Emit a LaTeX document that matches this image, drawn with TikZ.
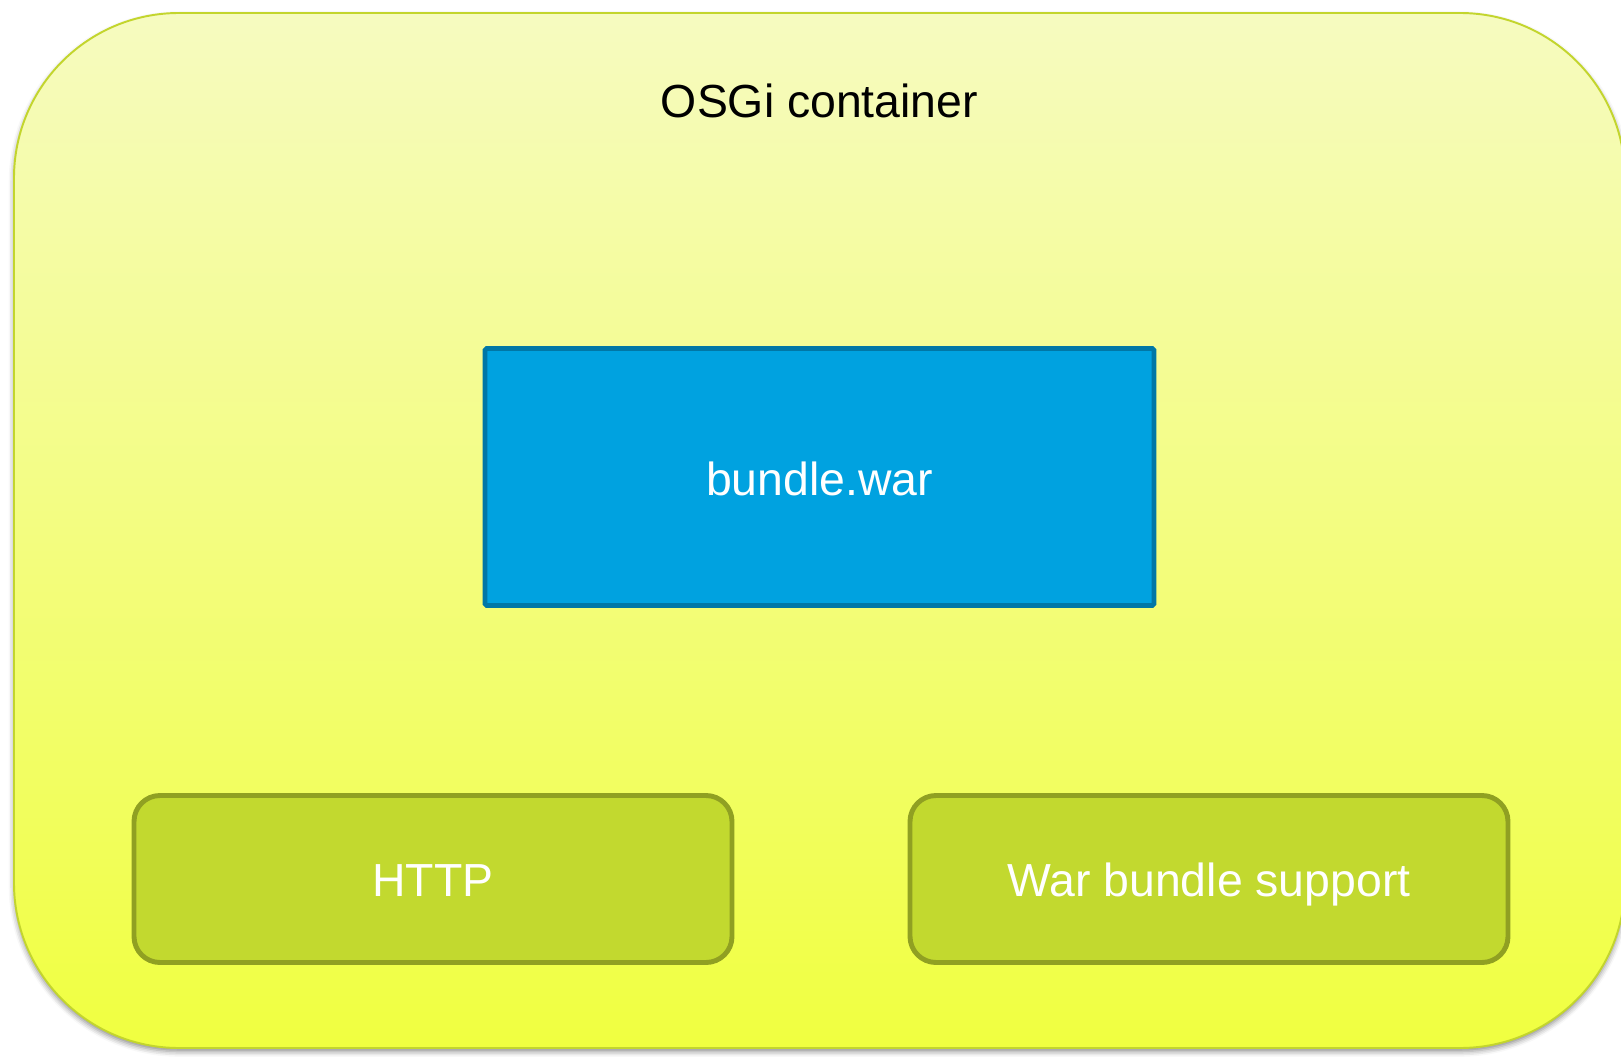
\documentclass[tikz,border=0pt]{standalone}
\usepackage{fontspec}
\setmainfont{Liberation Sans}
\usetikzlibrary{positioning,shadows,shadows.blur}
\definecolor{osgitop}{RGB}{246,251,192}
\definecolor{osgibottom}{RGB}{240,255,64}
\definecolor{osgiline}{RGB}{195,213,45}
\definecolor{warfill}{RGB}{0,162,224}
\definecolor{warline}{RGB}{0,119,166}
\definecolor{partfill}{RGB}{194,217,47}
\definecolor{partline}{RGB}{144,160,34}

\begin{document}
\begin{tikzpicture}[on grid,
  container/.style={rectangle,rounded corners=3.3cm,draw=osgiline,line width=1.1pt,top color=osgitop,bottom color=osgibottom,minimum width=32.22cm,minimum height=20.7cm,blur shadow={shadow xshift=0pt,shadow yshift=-2pt,shadow blur radius=3pt,shadow opacity=45}},
  title node/.style={font=\fontsize{26.4}{30}\selectfont},
  war node/.style={rectangle,rounded corners=1pt,fill=warfill,draw=warline,line width=2.8pt,minimum width=13.38cm,minimum height=5.14cm,text=white,font=\fontsize{26.4}{30}\selectfont,text height=21.5pt,text depth=0pt},
  part node/.style={rectangle,rounded corners=0.52cm,fill=partfill,draw=partline,line width=2.8pt,minimum width=11.96cm,minimum height=3.34cm,text=white,font=\fontsize{26.4}{30}\selectfont,text height=19.5pt,text depth=0pt}]

 \useasboundingbox (0,0) rectangle (32.42,-21.14);

 \node[container] (osgi) at (16.39,-10.61) {};
 \node[title node] (title) [above=8.59cm of osgi] {OSGi container};
 \node[war node] (bundle) [below=7.52cm of title] {bundle.war};
 \node[part node] (http) [below left=8.04cm and 7.73cm of bundle] {HTTP};
 \node[part node] (support) [right=15.52cm of http] {War bundle support};

\end{tikzpicture}
\end{document}
